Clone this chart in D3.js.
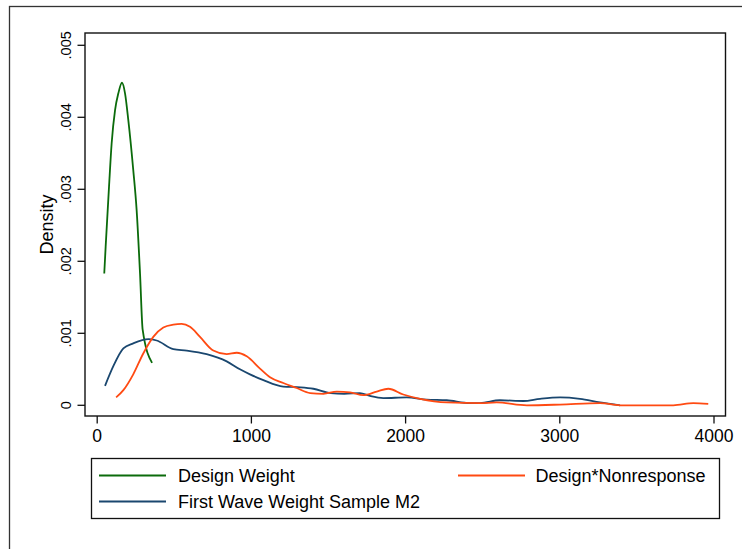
<!DOCTYPE html>
<html>
<head>
<meta charset="utf-8">
<script src="https://cdn.jsdelivr.net/npm/d3@7"></script>
<style>
  body { margin: 0; background: #fff; }
  text { font-family: "Liberation Sans", Arial, sans-serif; fill: #000; }
</style>
</head>
<body>
<script>
// density curves: [x, density]
const designWeight = [
  [49, .00183], [58, .0022], [80, .00304], [97, .00364], [119, .00410],
  [140, .00433], [164, .00448], [184, .00433], [205, .00396], [237, .00327],
  [259, .00271], [281, .00183], [298, .00105], [359, .00059]
]
const firstWave = [
  [54, .00027], [107, .00054], [173, .00079], [237, .00086], [335, .00092],
  [389, .00090], [497, .00078], [584, .00076], [713, .00071], [843, .00061],
  [929, .00050], [994, .00043], [1081, .00035], [1210, .00026], [1322, .00025],
  [1405, .00023], [1518, .00017], [1605, .00016], [1707, .00017], [1772, .00013],
  [1859, .00010], [2010, .00011], [2140, .00008], [2270, .00007], [2421, .00003],
  [2486, .00003], [2615, .00007], [2767, .00006], [2875, .00009], [3005, .00011],
  [3134, .00009], [3264, .00004], [3394, .00000]
]
const designNonresp = [
  [126, .00011], [173, .00021], [237, .00043], [302, .00072], [367, .00095],
  [432, .00108], [497, .00112], [551, .00113], [605, .00109], [670, .00095],
  [756, .00076], [843, .00071], [908, .00073], [973, .00068], [1059, .00051],
  [1124, .00039], [1210, .00031], [1297, .00024], [1384, .00017], [1470, .00016],
  [1557, .00019], [1643, .00018], [1729, .00014], [1816, .00019], [1891, .00023],
  [1988, .00015], [2097, .00009], [2270, .00004], [2486, .00003], [2594, .00004],
  [2789, .00000], [3005, .00001], [3264, .00003], [3394, .00000], [3567, .00000],
  [3740, .00000], [3869, .00003], [3966, .00002]
]
const xTicks = [0, 1000, 2000, 3000, 4000]
const yTicks = [0, .001, .002, .003, .004, .005]
const yTickLabels = ["0", ".001", ".002", ".003", ".004", ".005"]

const series = [
  {name: "Design Weight", data: designWeight, color: "#0b6b0b"},
  {name: "First Wave Weight Sample M2", data: firstWave, color: "#1a476f"},
  {name: "Design*Nonresponse", data: designNonresp, color: "#ff4a12"}
]

const w = 742, h = 549
// plot region box
const box = {left: 85, right: 725.5, top: 33, bottom: 416}

const svg = d3.select("body").append("svg")
  .attr("width", w)
  .attr("height", h)

// outer graph frame (runs off the right/bottom edge in the original)
svg.append("rect")
  .attr("x", 9.5).attr("y", 6.5)
  .attr("width", 800).attr("height", 600)
  .attr("fill", "none").attr("stroke", "#333").attr("stroke-width", 1.3)

const x = d3.scaleLinear().domain([0, 4000]).range([96.7, 713.5])
const y = d3.scaleLinear().domain([0, .005]).range([405.3, 45.3])

svg.append("rect")
  .attr("x", box.left).attr("y", box.top)
  .attr("width", box.right - box.left).attr("height", box.bottom - box.top)
  .attr("fill", "none").attr("stroke", "#111").attr("stroke-width", 1.4)

// y axis
const yAxis = svg.append("g")
  .attr("transform", "translate(" + box.left + ",0)")
  .call(d3.axisLeft(y).tickValues(yTicks).tickSize(7.5).tickFormat((d, i) => yTickLabels[i]))
yAxis.select(".domain").remove()
yAxis.selectAll("line").attr("stroke", "#111").attr("stroke-width", 1.3)
yAxis.selectAll("text")
  .attr("x", 0).attr("y", 0).attr("dy", null)
  .attr("transform", d => "translate(-14," + y(d) + ") rotate(-90)")
  .style("text-anchor", "middle")
  .style("font-size", "14.5px")
  .style("font-family", "'Liberation Sans', Arial, sans-serif")
yAxis.selectAll(".tick").attr("transform", d => "translate(0,0)")
yAxis.selectAll(".tick line").attr("y1", d => y(d)).attr("y2", d => y(d))

// x axis
const xAxis = svg.append("g")
  .attr("transform", "translate(0," + box.bottom + ")")
  .call(d3.axisBottom(x).tickValues(xTicks).tickSize(7.5).tickFormat(d3.format("d")))
xAxis.select(".domain").remove()
xAxis.selectAll("line").attr("stroke", "#111").attr("stroke-width", 1.3)
xAxis.selectAll("text")
  .attr("y", 26).attr("dy", null)
  .style("font-size", "17.5px")
  .style("font-family", "'Liberation Sans', Arial, sans-serif")

// axis title
svg.append("text")
  .attr("transform", "translate(53," + ((box.top + box.bottom) / 2) + ") rotate(-90)")
  .attr("text-anchor", "middle")
  .style("font-size", "18px")
  .text("Density")

// curves
const line = d3.line()
  .x(d => x(d[0]))
  .y(d => y(d[1]))
  .curve(d3.curveMonotoneX)

svg.selectAll("path.curve")
  .data(series)
  .enter()
  .append("path")
  .attr("class", "curve")
  .attr("d", d => line(d.data))
  .attr("fill", "none")
  .attr("stroke", d => d.color)
  .attr("stroke-width", 1.8)

// legend
const leg = {x: 91.5, y: 458.5, w: 628, h: 60}
svg.append("rect")
  .attr("x", leg.x).attr("y", leg.y)
  .attr("width", leg.w).attr("height", leg.h)
  .attr("fill", "none").attr("stroke", "#111").attr("stroke-width", 1.3)

// order inside the box: col 1 row 1, col 2 row 1, col 1 row 2
const legPos = [
  {lx: 99, row: 0, tx: 178},
  {lx: 99, row: 1, tx: 178},
  {lx: 458, row: 0, tx: 535.5}
]
const legItems = svg.selectAll("g.leg")
  .data(series)
  .enter()
  .append("g")
  .attr("class", "leg")
  .attr("transform", (d, i) => "translate(0," + (475.5 + legPos[i].row * 26) + ")")

legItems.append("line")
  .attr("x1", (d, i) => legPos[i].lx)
  .attr("x2", (d, i) => legPos[i].lx + 67)
  .attr("stroke", d => d.color)
  .attr("stroke-width", 1.8)

legItems.append("text")
  .attr("x", (d, i) => legPos[i].tx)
  .attr("dy", "0.36em")
  .style("font-size", "18px")
  .text(d => d.name)
</script>
</body>
</html>
